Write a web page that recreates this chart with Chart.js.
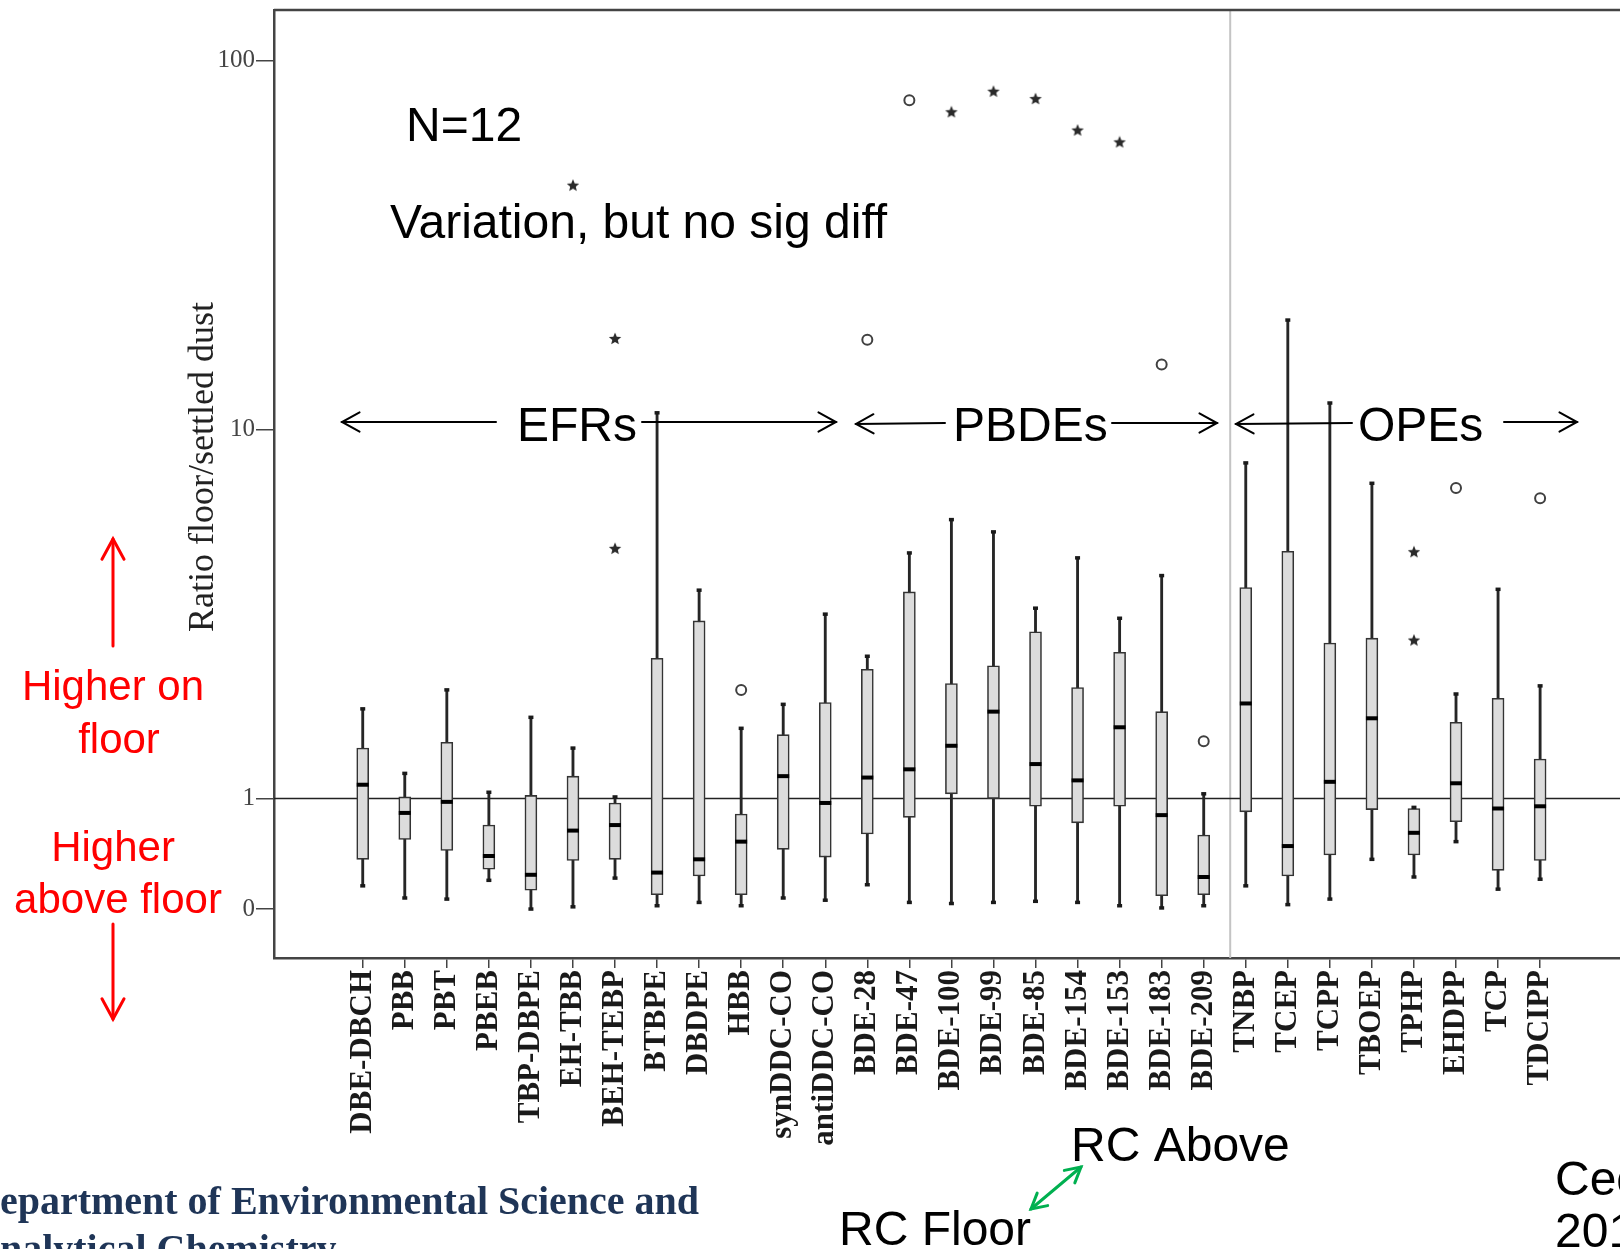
<!DOCTYPE html>
<html>
<head>
<meta charset="utf-8">
<script src="https://cdn.jsdelivr.net/npm/chart.js@4.4.1/dist/chart.umd.min.js"></script>
<style>
  html, body { margin: 0; padding: 0; background: #fff; }
  #wrap { width: 1620px; height: 1249px; }
</style>
</head>
<body>
<div id="wrap"><canvas id="boxChart" width="1620" height="1249"></canvas></div>
<script>
// ratio floor / settled dust, N=12
const categories = ['DBE-DBCH', 'PBB', 'PBT', 'PBEB', 'TBP-DBPE', 'EH-TBB', 'BEH-TEBP', 'BTBPE', 'DBDPE', 'HBB',
  'synDDC-CO', 'antiDDC-CO', 'BDE-28', 'BDE-47', 'BDE-100', 'BDE-99', 'BDE-85', 'BDE-154', 'BDE-153', 'BDE-183',
  'BDE-209', 'TNBP', 'TCEP', 'TCPP', 'TBOEP', 'TPHP', 'EHDPP', 'TCP', 'TDCIPP'];

const whiskerLow  = [0.21, 0.10, 0.09, 0.26, 0.00, 0.02, 0.28, 0.03, 0.06, 0.03, 0.10, 0.08, 0.22, 0.06, 0.05,
  0.06, 0.07, 0.06, 0.03, 0.01, 0.03, 0.21, 0.04, 0.09, 0.45, 0.29, 0.61, 0.18, 0.27];
const q1          = [0.45, 0.63, 0.53, 0.36, 0.17, 0.44, 0.45, 0.13, 0.30, 0.13, 0.54, 0.47, 0.68, 0.83, 1.03,
  1.00, 0.93, 0.78, 0.93, 0.12, 0.13, 0.88, 0.30, 0.49, 0.90, 0.49, 0.79, 0.35, 0.44];
const median      = [1.09, 0.87, 0.97, 0.48, 0.31, 0.71, 0.76, 0.33, 0.45, 0.61, 1.15, 0.96, 1.14, 1.20, 1.39,
  1.72, 1.24, 1.12, 1.56, 0.85, 0.29, 1.81, 0.57, 1.11, 1.65, 0.69, 1.10, 0.91, 0.93];
const q3          = [1.37, 1.01, 1.42, 0.76, 1.02, 1.15, 0.96, 2.40, 3.03, 0.86, 1.49, 1.82, 2.24, 3.63, 2.05,
  2.29, 2.83, 2.00, 2.49, 1.72, 0.67, 3.73, 4.68, 2.64, 2.72, 0.91, 1.61, 1.87, 1.28];
const whiskerHigh = [1.75, 1.17, 1.97, 1.04, 1.66, 1.37, 1.01, 11.1, 3.67, 1.55, 1.80, 3.16, 2.43, 4.63, 5.70,
  5.28, 3.28, 4.49, 3.08, 4.02, 1.03, 8.12, 19.8, 11.8, 7.15, 0.92, 1.92, 3.69, 2.02];

// outliers (o) and extremes (*)
const circleCat = [9, 12, 13, 19, 20, 26, 28];
const circleVal = [1.97, 17.5, 78.1, 15.0, 1.43, 6.94, 6.51];
const starCat = [5, 6, 6, 14, 15, 16, 17, 18, 25, 25];
const starVal = [45.8, 17.6, 4.75, 72.4, 82.3, 78.6, 64.6, 60.0, 4.65, 2.68];

const yTickValues = [0, 1, 10, 100];
const groupBreak = 20.63; // grey line between PBDEs and OPEs

// the original axis is linear from 0 to 1 and logarithmic above 1
const DECADE = 369 / 110.5;
function toAxis(v) { return v <= 1 ? v : 1 + DECADE * Math.log10(v); }

function makeStar(size, color) {
  const c = document.createElement('canvas');
  c.width = size; c.height = size;
  const g = c.getContext('2d');
  const R = size / 2 - 0.5, r = R * 0.45;
  g.beginPath();
  for (let k = 0; k < 10; k++) {
    const a = -Math.PI / 2 + k * Math.PI / 5;
    const rr = k % 2 ? r : R;
    g.lineTo(size / 2 + rr * Math.cos(a), size / 2 + rr * Math.sin(a));
  }
  g.closePath();
  g.fillStyle = color;
  g.fill();
  return c;
}

function arrow(ctx, x1, y1, x2, y2, heads, len, color, width) {
  ctx.save();
  ctx.strokeStyle = color;
  ctx.lineWidth = width;
  ctx.lineCap = 'round';
  ctx.beginPath();
  ctx.moveTo(x1, y1);
  ctx.lineTo(x2, y2);
  ctx.stroke();
  const head = (tx, ty, fx, fy) => {
    const a = Math.atan2(ty - fy, tx - fx);
    ctx.beginPath();
    ctx.moveTo(tx - len * Math.cos(a - 0.5), ty - len * Math.sin(a - 0.5));
    ctx.lineTo(tx, ty);
    ctx.lineTo(tx - len * Math.cos(a + 0.5), ty - len * Math.sin(a + 0.5));
    ctx.stroke();
  };
  if (heads === 'start' || heads === 'both') head(x1, y1, x2, y2);
  if (heads === 'end' || heads === 'both') head(x2, y2, x1, y1);
  ctx.restore();
}

const overlay = {
  id: 'overlay',
  beforeDatasetsDraw(chart) {
    const { ctx, chartArea: a, scales: { x, y } } = chart;
    ctx.save();
    // group separator
    ctx.strokeStyle = '#c4c4c4';
    ctx.lineWidth = 2;
    const gx = x.getPixelForValue(groupBreak);
    ctx.beginPath(); ctx.moveTo(gx, a.top); ctx.lineTo(gx, a.bottom); ctx.stroke();
    // frame top
    ctx.strokeStyle = '#444';
    ctx.lineWidth = 2.5;
    ctx.beginPath(); ctx.moveTo(a.left, a.top); ctx.lineTo(a.right, a.top); ctx.stroke();
    // reference line at ratio 1
    const y1 = y.getPixelForValue(toAxis(1));
    ctx.strokeStyle = '#222';
    ctx.lineWidth = 1.6;
    ctx.beginPath(); ctx.moveTo(a.left, y1); ctx.lineTo(a.right, y1); ctx.stroke();
    ctx.restore();
  },
  afterDraw(chart) {
    const ctx = chart.ctx;
    ctx.save();
    // y axis title
    ctx.save();
    ctx.translate(213, 467);
    ctx.rotate(-Math.PI / 2);
    ctx.fillStyle = '#222';
    ctx.font = '36px "Liberation Serif"';
    ctx.textAlign = 'center';
    ctx.textBaseline = 'alphabetic';
    ctx.fillText('Ratio floor/settled dust', 0, 0);
    ctx.restore();

    ctx.textBaseline = 'alphabetic';
    ctx.fillStyle = '#000';
    ctx.font = '48px "Liberation Sans"';
    ctx.textAlign = 'left';
    ctx.fillText('N=12', 406, 141);
    ctx.fillText('Variation, but no sig diff', 390, 238);
    ctx.fillText('EFRs', 517, 441);
    ctx.fillText('PBDEs', 953, 441);
    ctx.fillText('OPEs', 1358, 441);
    arrow(ctx, 342, 422, 496, 422, 'start', 20, '#000', 2);
    arrow(ctx, 642, 422, 836, 422, 'end', 20, '#000', 2);
    arrow(ctx, 856, 424, 945, 423, 'start', 20, '#000', 2);
    arrow(ctx, 1112, 423, 1217, 423, 'end', 20, '#000', 2);
    arrow(ctx, 1236, 424, 1352, 423, 'start', 20, '#000', 2);
    arrow(ctx, 1504, 422, 1577, 422, 'end', 20, '#000', 2);

    // red side notes
    ctx.fillStyle = '#ff0000';
    ctx.font = '42px "Liberation Sans"';
    ctx.textAlign = 'center';
    ctx.fillText('Higher on', 113, 700);
    ctx.fillText('floor', 119, 753);
    ctx.fillText('Higher', 113, 861);
    ctx.fillText('above floor', 118, 913);
    arrow(ctx, 113, 646, 113, 539, 'end', 23, '#ff0000', 3);
    arrow(ctx, 113, 924, 113, 1019, 'end', 23, '#ff0000', 3);

    // bottom notes
    ctx.fillStyle = '#000';
    ctx.font = '48px "Liberation Sans"';
    ctx.textAlign = 'left';
    ctx.fillText('RC Above', 1071, 1161);
    ctx.fillText('RC Floor', 839, 1245);
    ctx.fillText('Cec', 1555, 1195);
    ctx.fillText('201', 1555, 1247);
    arrow(ctx, 1031, 1209, 1081, 1167, 'both', 17, '#00b050', 3);

    ctx.fillStyle = '#1f3557';
    ctx.font = 'bold 40px "Liberation Serif"';
    ctx.fillText('Department of Environmental Science and', -29, 1214);
    ctx.fillText('Analytical Chemistry', -29, 1262);
    ctx.restore();
  }
};

const idx = categories.map((c, i) => i);

new Chart(document.getElementById('boxChart'), {
  type: 'bar',
  data: {
    datasets: [
      {
        label: 'whiskers',
        data: idx.map(i => ({ x: i, y: [toAxis(whiskerLow[i]), toAxis(whiskerHigh[i])] })),
        backgroundColor: '#262626',
        barThickness: 2.2,
        grouped: false,
        order: 6
      },
      {
        label: 'IQR',
        data: idx.map(i => ({ x: i, y: [toAxis(q1[i]), toAxis(q3[i])] })),
        backgroundColor: '#dcdcdc',
        borderColor: '#333',
        borderWidth: 1.6,
        borderSkipped: false,
        barThickness: 12,
        grouped: false,
        order: 5
      },
      {
        type: 'scatter',
        label: 'caps',
        data: idx.flatMap(i => [{ x: i, y: toAxis(whiskerLow[i]) }, { x: i, y: toAxis(whiskerHigh[i]) }]),
        pointStyle: 'line',
        pointRadius: 2.5,
        borderWidth: 3.5,
        borderColor: '#1a1a1a',
        order: 4
      },
      {
        type: 'scatter',
        label: 'median',
        data: idx.map(i => ({ x: i, y: toAxis(median[i]) })),
        pointStyle: 'line',
        pointRadius: 6,
        borderWidth: 4,
        borderColor: '#000',
        order: 3
      },
      {
        type: 'scatter',
        label: 'outliers',
        data: circleCat.map((c, k) => ({ x: c, y: toAxis(circleVal[k]) })),
        pointStyle: 'circle',
        pointRadius: 5,
        borderWidth: 2,
        borderColor: '#404040',
        backgroundColor: 'rgba(255,255,255,0)',
        order: 2
      },
      {
        type: 'scatter',
        label: 'extremes',
        data: starCat.map((c, k) => ({ x: c, y: toAxis(starVal[k]) })),
        pointStyle: makeStar(14, '#2a2a2a'),
        order: 1
      }
    ]
  },
  options: {
    responsive: false,
    devicePixelRatio: 1,
    animation: false,
    events: [],
    layout: { autoPadding: false, padding: { top: 10, left: 0, right: 0, bottom: 0 } },
    plugins: { legend: { display: false }, tooltip: { enabled: false } },
    scales: {
      x: {
        type: 'linear',
        min: -2.11,
        max: 29.9,
        offset: false,
        afterBuildTicks: s => { s.ticks = idx.map(i => ({ value: i })); },
        afterFit: s => { s.height = 291; },
        ticks: {
          autoSkip: false,
          minRotation: 90,
          maxRotation: 90,
          padding: 2,
          color: '#1a1a1a',
          font: { family: 'Liberation Serif', size: 31, weight: 'bold' },
          callback: v => categories[v]
        },
        grid: { offset: false, drawOnChartArea: false, drawTicks: true, tickLength: 10, color: '#444', lineWidth: 1.5 },
        border: { display: true, color: '#444', width: 2.5 }
      },
      y: {
        type: 'linear',
        min: -0.443,
        max: 8.136,
        afterBuildTicks: s => { s.ticks = yTickValues.map(v => ({ value: toAxis(v) })); },
        afterFit: s => { s.width = 274; },
        ticks: {
          padding: 1,
          color: '#444',
          font: { family: 'Liberation Serif', size: 25, lineHeight: 0.7 },
          callback: (v, i) => String(yTickValues[i])
        },
        grid: { drawOnChartArea: false, drawTicks: true, tickLength: 18, color: '#444', lineWidth: 1.5 },
        border: { display: true, color: '#444', width: 2.5 }
      }
    }
  },
  plugins: [overlay]
});
</script>
</body>
</html>
